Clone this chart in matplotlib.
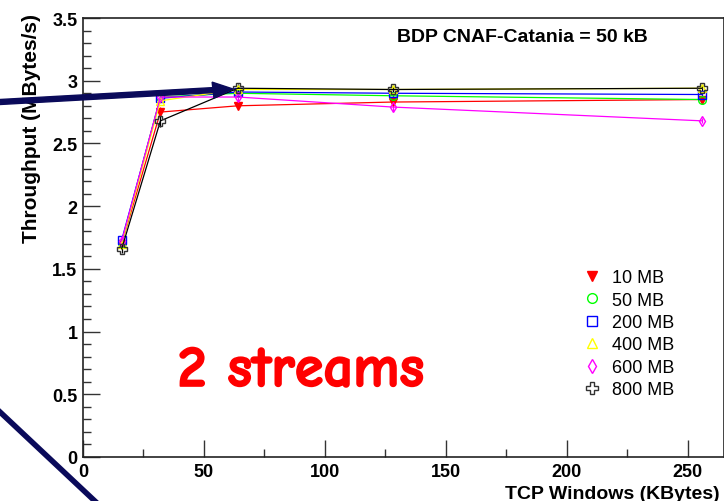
import matplotlib
matplotlib.use("Agg")
import matplotlib.pyplot as plt
import matplotlib.patheffects as pe
from matplotlib.lines import Line2D
from matplotlib.patches import FancyArrow
from matplotlib.ticker import MultipleLocator

plt.rcParams['font.family'] = ['Liberation Sans', 'DejaVu Sans']

# TCP window sizes (KBytes)
windows = [16, 32, 64, 128, 256]

# Throughput (MBytes/s) per transferred file size
tp_10mb = [1.70, 2.75, 2.80, 2.83, 2.85]
tp_50mb = [1.71, 2.87, 2.90, 2.88, 2.85]
tp_200mb = [1.73, 2.86, 2.91, 2.90, 2.89]
tp_400mb = [1.70, 2.84, 2.93, 2.93, 2.94]
tp_600mb = [1.72, 2.87, 2.87, 2.79, 2.68]
tp_800mb = [1.66, 2.68, 2.94, 2.93, 2.94]

err_10mb = [0.02, 0.04, 0.02, 0.02, 0.02]
err_50mb = [0.02, 0.02, 0.02, 0.02, 0.02]
err_200mb = [0.02, 0.02, 0.02, 0.02, 0.02]
err_400mb = [0.02, 0.02, 0.02, 0.02, 0.02]
err_600mb = [0.02, 0.02, 0.03, 0.03, 0.02]
err_800mb = [0.03, 0.05, 0.03, 0.02, 0.02]

labels = ["10 MB", "50 MB", "200 MB", "400 MB", "600 MB", "800 MB"]
series = [tp_10mb, tp_50mb, tp_200mb, tp_400mb, tp_600mb, tp_800mb]
errors = [err_10mb, err_50mb, err_200mb, err_400mb, err_600mb, err_800mb]
colors = ["#ff0000", "#00ff00", "#0000ff", "#ffff00", "#ff00ff", "#000000"]
markers = ["v", "o", "s", "^", "d", "P"]
filled = [True, False, False, False, False, False]

W, H = 724, 502
fig = plt.figure(figsize=(W / 100, H / 100), dpi=100)
ax = fig.add_axes([83 / W, 44 / H, 1 - 83 / W, (458 - 19) / H])

for y, e, c, m, f in zip(series, errors, colors, markers, filled):
    ax.errorbar(windows, y, yerr=e, color=c, lw=0.9, elinewidth=0.9,
                capsize=0, marker=m, ms=5.5 if m != "P" else 6.5,
                mfc=c if f else "none", mec=c if m != "P" else "#333333",
                mew=1.0, zorder=3)

ax.set_xlim(0, 265)
ax.set_ylim(0, 3.5)
ax.xaxis.set_major_locator(MultipleLocator(50))
ax.xaxis.set_minor_locator(MultipleLocator(25))
ax.yaxis.set_major_locator(MultipleLocator(0.5))
ax.yaxis.set_minor_locator(MultipleLocator(0.1))
ax.tick_params(which='both', direction='in', top=False, right=False,
               width=1.0, color='#333333')
ax.tick_params(which='major', length=12, labelsize=13, pad=4)
ax.tick_params(which='minor', length=6)
ax.set_xticks([0, 50, 100, 150, 200, 250])
ax.set_xticklabels(["0", "50", "100", "150", "200", "250"], fontweight='bold')
ax.set_yticks([0, 0.5, 1, 1.5, 2, 2.5, 3, 3.5])
ax.set_yticklabels(["0", "0.5", "1", "1.5", "2", "2.5", "3", "3.5"],
                   fontweight='bold')
for s in ax.spines.values():
    s.set_linewidth(1.2)
    s.set_color('#222222')

# legend: marker-only entries
handles = [Line2D([], [], ls='none', marker=m, ms=7 if m != "P" else 8,
                  mfc=c if f else "none",
                  mec=c if m != "P" else "#333333", mew=1.0)
           for c, m, f in zip(colors, markers, filled)]
ax.legend(handles, labels, loc='upper left',
          bbox_to_anchor=(576 / W, 1 - 263 / H), bbox_transform=fig.transFigure,
          frameon=False, fontsize=13, handlelength=1.0, handletextpad=0.6,
          labelspacing=0.3, borderaxespad=0)

fig.text(397 / W, 1 - 37 / H, "BDP CNAF-Catania = 50 kB", fontsize=14,
         fontweight='bold', va='center', ha='left')
fig.text(301 / W, 1 - 373 / H, "2 streams", fontsize=42, fontweight='bold',
         color='#ff0000', va='center', ha='center',
         family=['Comic Neue', 'DejaVu Sans'],
         path_effects=[pe.withStroke(linewidth=1.2, foreground='#ff0000')])

fig.text(32 / W, 1 - 14 / H, "Throughput (MBytes/s)", fontsize=15,
         fontweight='bold', rotation=90, va='top', ha='center')
fig.text(720 / W, 1 - 486 / H, "TCP Windows (KBytes)", fontsize=14,
         fontweight='bold', va='top', ha='right')

# navy pointer arrows
navy = '#0a0a5a'
fig.patches.append(FancyArrow(0, 1 - 103 / H, 233 / W, 13 / H,
                              width=5 / H, head_width=16 / H,
                              head_length=20 / W, length_includes_head=True,
                              color=navy, transform=fig.transFigure,
                              figure=fig, zorder=10))
fig.lines.append(Line2D([0, 98 / W], [1 - 413 / H, 1 - 505 / H], lw=4,
                        color=navy, transform=fig.transFigure, figure=fig,
                        zorder=10))

fig.savefig("out.png", dpi=100)
